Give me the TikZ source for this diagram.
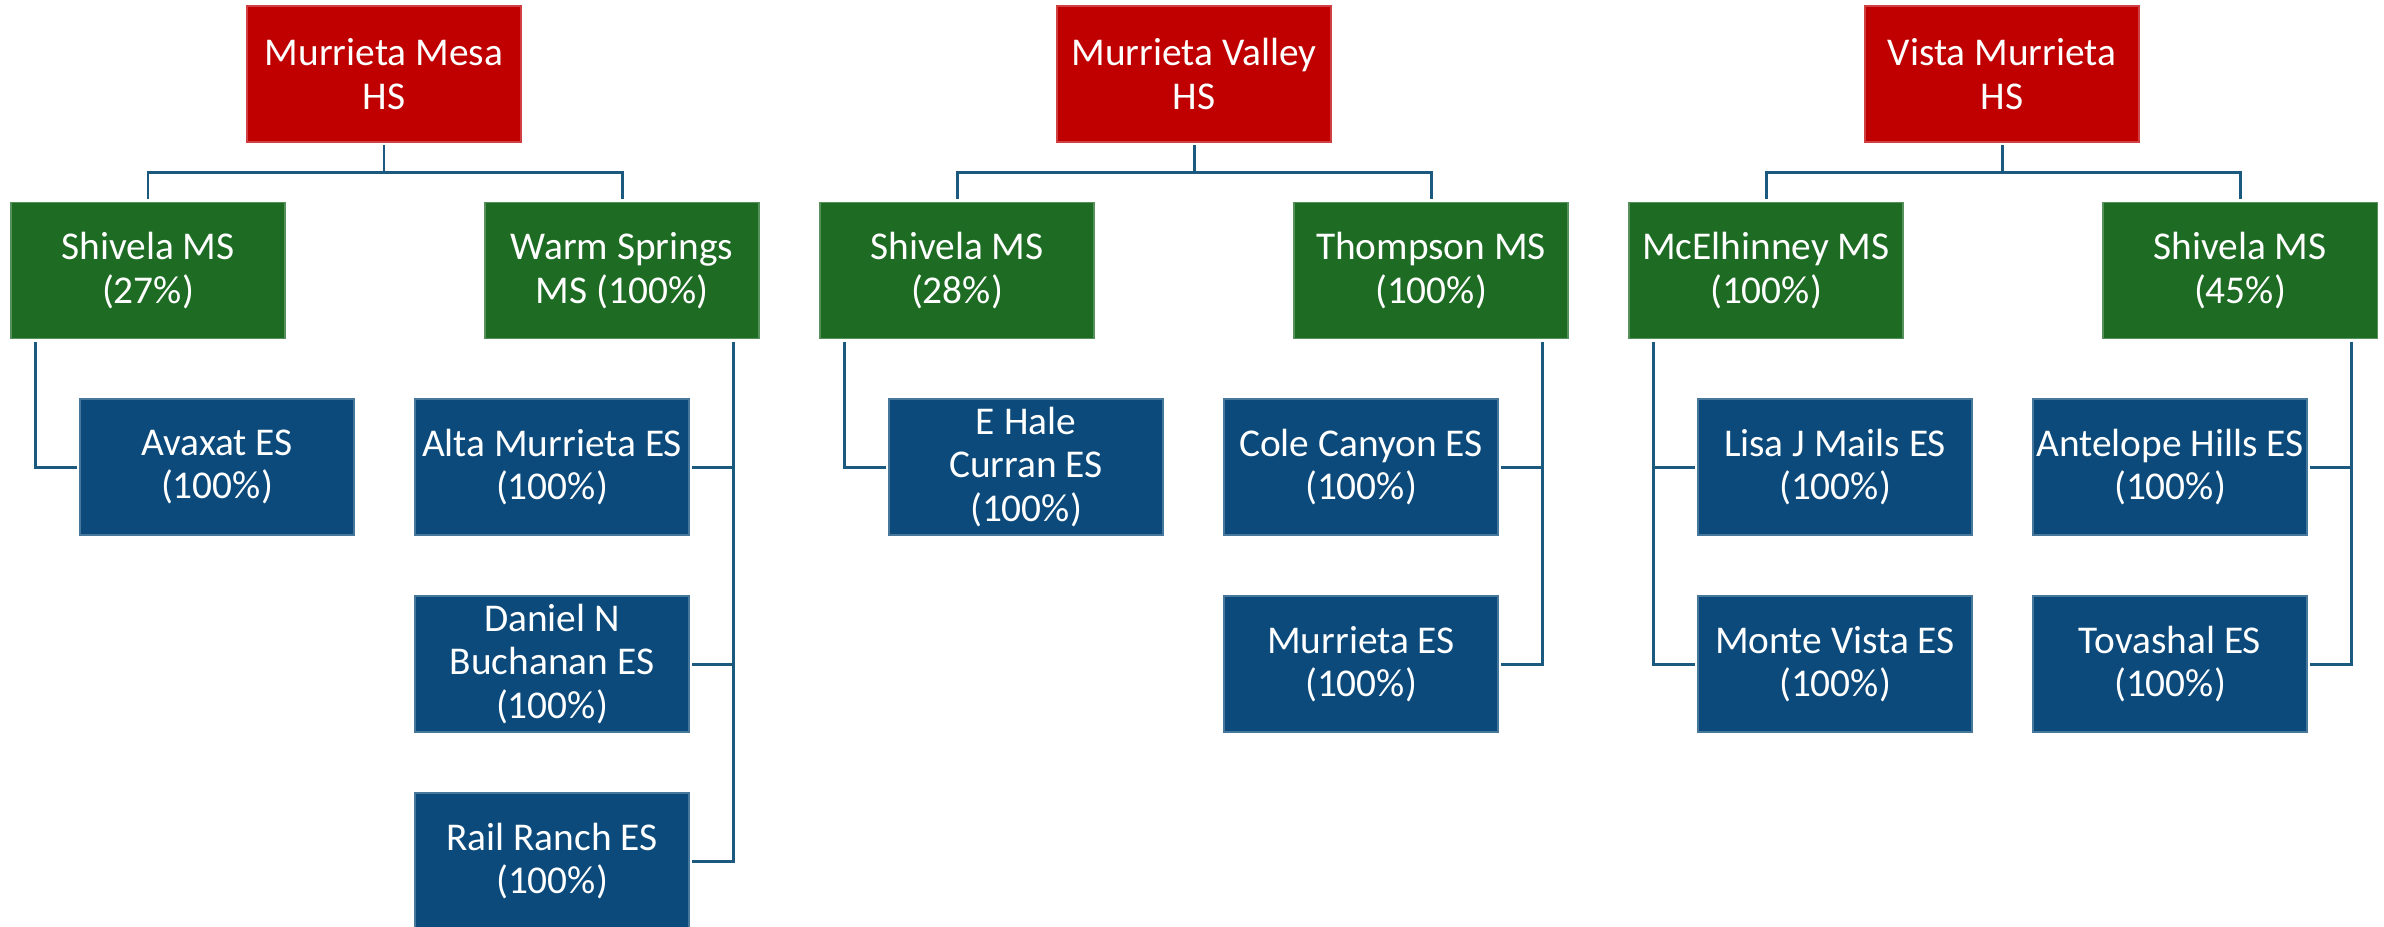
\documentclass[tikz,border=0pt]{standalone}
\usepackage{fontspec}
\setmainfont{Carlito}
\usepackage{xcolor}
\usepackage{tikz}
\usetikzlibrary{backgrounds}
\usetikzlibrary{calc}

\definecolor{hsred}{HTML}{C00000}
\definecolor{msgreen}{HTML}{1E6B24}
\definecolor{esblue}{HTML}{0B4A7B}
\definecolor{linkblue}{HTML}{1B5A7E}

\begin{document}
\begin{tikzpicture}%%feeder

        \tikzstyle{box}    = [rectangle, minimum width=2.74cm, minimum height=1.36cm, inner sep=0pt,
                              align=center, text=white, font=\fontsize{11.2}{12.4}\selectfont]
        \tikzstyle{hsbox}  = [box, fill=hsred, draw=hsred!75!white, line width=0.3pt]
        \tikzstyle{msbox}  = [box, fill=msgreen, draw=msgreen!75!white, line width=0.3pt]
        \tikzstyle{esbox}  = [box, fill=esblue, draw=esblue!75!white, line width=0.3pt]
        \tikzstyle{link}   = [draw=linkblue, line width=0.85pt, shorten <=0.8pt, shorten >=0.8pt]

        \useasboundingbox (0,0) rectangle (23.84,-9.26);
        \clip (0,0) rectangle (23.84,-9.26);

        \node [hsbox](hs1) at (3.84,-0.74) {Murrieta Mesa\\HS};
        \node [hsbox](hs2) at (11.94,-0.74) {Murrieta Valley\\HS};
        \node [hsbox](hs3) at (20.02,-0.74) {Vista Murrieta\\HS};

        \node [msbox](msa1) at (1.48,-2.705) {Shivela MS\\(27\%)};
        \node [msbox](msb1) at (6.22,-2.705) {Warm Springs\\MS (100\%)};
        \node [msbox](msa2) at (9.57,-2.705) {Shivela MS\\(28\%)};
        \node [msbox](msb2) at (14.31,-2.705) {Thompson MS\\(100\%)};
        \node [msbox](msa3) at (17.66,-2.705) {McElhinney MS\\(100\%)};
        \node [msbox](msb3) at (22.40,-2.705) {Shivela MS\\(45\%)};

        \node [esbox](avaxat) at (2.17,-4.67) {Avaxat ES\\(100\%)};
        \node [esbox](alta) at (5.52,-4.67) {Alta Murrieta ES\\(100\%)};
        \node [esbox](buchanan) at (5.52,-6.64) {Daniel N\\Buchanan ES\\(100\%)};
        \node [esbox](rail) at (5.52,-8.61) {Rail Ranch ES\\(100\%)};
        \node [esbox](curran) at (10.26,-4.67) {E Hale\\Curran ES\\(100\%)};
        \node [esbox](cole) at (13.61,-4.67) {Cole Canyon ES\\(100\%)};
        \node [esbox](murrieta) at (13.61,-6.64) {Murrieta ES\\(100\%)};
        \node [esbox](mails) at (18.35,-4.67) {Lisa J Mails ES\\(100\%)};
        \node [esbox](monte) at (18.35,-6.64) {Monte Vista ES\\(100\%)};
        \node [esbox](antelope) at (21.70,-4.67) {Antelope Hills ES\\(100\%)};
        \node [esbox](tovashal) at (21.70,-6.64) {Tovashal ES\\(100\%)};

        \begin{pgfonlayer}{background}
                \foreach \i in {1,2,3}
                {
                        \draw [link] (hs\i.south) -- ++(0,-0.30) -| (msa\i.north);
                        \draw [link] (hs\i.south) -- ++(0,-0.30) -| (msb\i.north);
                }
                \foreach \m/\e in {msa1/avaxat, msa2/curran, msa3/mails, msa3/monte}
                        \draw [link] ($(\m.south west)+(0.255,0)$) |- (\e.west);
                \foreach \m/\e in {msb1/alta, msb1/buchanan, msb1/rail, msb2/cole, msb2/murrieta, msb3/antelope, msb3/tovashal}
                        \draw [link] ($(\m.south east)+(-0.26,0)$) |- (\e.east);
        \end{pgfonlayer}
\end{tikzpicture}
\end{document}
